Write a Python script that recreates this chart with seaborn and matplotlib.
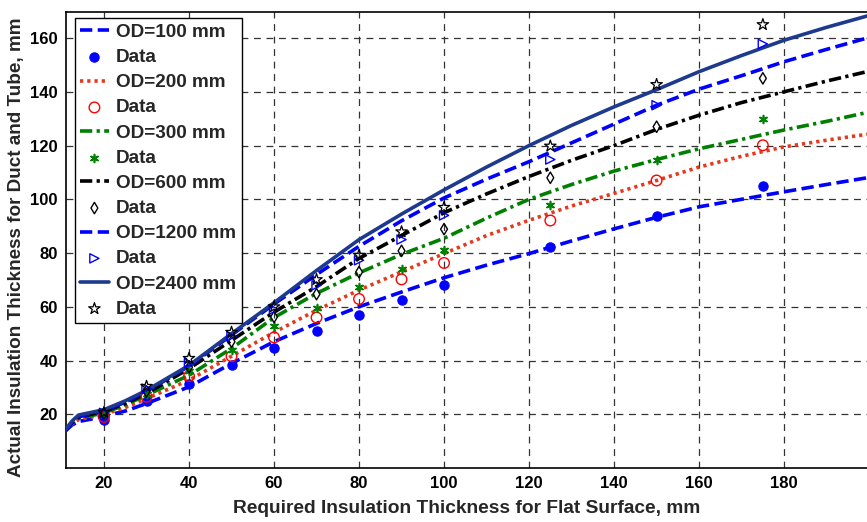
import numpy as np
import pandas as pd
import matplotlib
matplotlib.use("Agg")
import matplotlib.pyplot as plt
import seaborn as sns

# ---- data ----
x_fit = [11, 12.5, 14, 17, 20, 25, 30, 40, 50, 60, 70, 80, 90, 100, 110, 120,
         130, 140, 150, 160, 170, 180, 190, 199.5]
fit_100 = [14.0, 16.0, 17.3, 18.2, 19.3, 21.2, 24.0, 30.2, 38.9, 47.0, 53.8, 60.0,
           65.5, 70.8, 75.5, 79.8, 84.5, 89.0, 93.3, 97.2, 100.0, 102.8, 105.5, 108.0]
fit_200 = [14.0, 16.3, 18.0, 19.0, 20.0, 22.5, 25.8, 32.7, 41.6, 50.5, 58.7, 66.2,
           73.0, 79.8, 86.5, 92.2, 97.5, 102.2, 107.0, 112.0, 116.0, 119.5, 122.0, 124.2]
fit_300 = [14.0, 16.5, 18.5, 19.5, 20.5, 23.5, 27.1, 34.5, 44.5, 56.0, 65.0, 72.6,
           79.5, 85.5, 93.0, 100.0, 105.5, 110.5, 114.8, 118.8, 122.3, 125.8, 129.0, 132.3]
fit_600 = [14.0, 16.8, 18.8, 20.0, 21.0, 24.0, 27.7, 37.0, 47.5, 58.0, 67.5, 78.0,
           86.5, 95.0, 102.0, 108.5, 114.5, 120.0, 126.0, 131.3, 136.0, 140.0, 144.0, 147.5]
fit_1200 = [14.0, 17.0, 19.0, 20.2, 21.3, 24.5, 28.5, 37.9, 49.5, 61.0, 72.0, 82.5,
            92.0, 100.5, 107.5, 114.0, 121.0, 128.0, 135.0, 141.0, 146.0, 151.2, 155.8, 160.0]
fit_2400 = [14.5, 17.5, 19.7, 20.7, 21.7, 25.0, 28.9, 38.2, 50.0, 61.5, 73.5, 85.0,
            94.5, 103.5, 112.0, 120.0, 127.5, 134.4, 140.8, 147.5, 153.5, 159.2, 164.0, 168.2]

x_data = [20, 30, 40, 50, 60, 70, 80, 90, 100, 125, 150, 175]
data_100 = [18.0, 25.0, 31.4, 38.4, 44.8, 50.9, 56.9, 62.4, 68.0, 82.1, 93.8, 105.0]
data_200 = [19.0, 26.5, 34.2, 41.6, 48.6, 56.0, 62.9, 70.2, 76.3, 92.1, 107.0, 120.1]
data_300 = [19.8, 27.5, 36.0, 44.0, 52.8, 59.6, 67.2, 73.9, 81.0, 98.0, 114.7, 129.8]
data_600 = [20.3, 28.5, 37.5, 47.0, 56.2, 64.7, 72.9, 80.8, 88.9, 108.0, 127.0, 145.0]
data_1200 = [20.5, 29.5, 39.0, 49.0, 59.0, 68.0, 77.3, 85.0, 94.0, 114.8, 135.0, 157.8]
data_2400 = [20.7, 30.4, 40.8, 50.5, 60.0, 70.1, 79.2, 87.9, 97.0, 119.8, 142.7, 165.0]

line_labels = ["OD=100 mm", "OD=200 mm", "OD=300 mm", "OD=600 mm", "OD=1200 mm", "OD=2400 mm"]
x_ticks = [20, 40, 60, 80, 100, 120, 140, 160, 180]
y_ticks = [20, 40, 60, 80, 100, 120, 140, 160]

# ---- style ----
sns.set_style("white")
plt.rcParams["font.family"] = ["Liberation Sans", "DejaVu Sans"]
plt.rcParams["font.weight"] = "bold"

fig = plt.figure(figsize=(8.67, 5.22), dpi=100)
ax = fig.add_axes([66 / 867, 1 - 468 / 522, (867 - 66) / 867, (468 - 12) / 522])

fits = [fit_100, fit_200, fit_300, fit_600, fit_1200, fit_2400]
datas = [data_100, data_200, data_300, data_600, data_1200, data_2400]
line_styles = [
    dict(color="#0000FF", ls=(0, (3.4, 1.5))),
    dict(color="#E5391E", ls=(0, (0.9, 1.1))),
    dict(color="#008000", ls=(0, (3.4, 1.2, 0.9, 1.2))),
    dict(color="#000000", ls=(0, (3.4, 1.2, 0.9, 1.2))),
    dict(color="#0000FF", ls=(0, (3.4, 1.5))),
    dict(color="#1E3A8E", ls="-"),
]
marker_styles = [
    dict(marker="o", s=45, facecolor="#0000FF", edgecolor="#0000FF", linewidth=0.8),
    dict(marker="o", s=58, facecolor="none", edgecolor="#FF0000", linewidth=1.0),
    dict(marker=(6, 2, 0), s=32, facecolor="#008000", edgecolor="#008000", linewidth=1.2),
    dict(marker="d", s=34, facecolor="none", edgecolor="#000000", linewidth=1.0),
    dict(marker=">", s=44, facecolor="none", edgecolor="#0000FF", linewidth=1.0),
    dict(marker="*", s=75, facecolor="none", edgecolor="#000000", linewidth=0.9),
]

handles = []
labels = []
for fit, dat, lab, lsty, msty in zip(fits, datas, line_labels, line_styles, marker_styles):
    sns.lineplot(x=x_fit, y=fit, ax=ax, color=lsty["color"], linewidth=2.6,
                 linestyle=lsty["ls"], label=lab, zorder=3)
    ln = ax.lines[-1]
    sns.scatterplot(x=x_data, y=dat, ax=ax, marker=msty["marker"], s=msty["s"],
                    facecolor=msty["facecolor"], edgecolor=msty["edgecolor"],
                    linewidth=msty["linewidth"], label="Data", zorder=4)
    sc = ax.collections[-1]
    handles += [ln, sc]
    labels += [lab, "Data"]

ax.set_xlim(11.06, 199.5)
ax.set_ylim(0, 169.7)
ax.set_xticks(x_ticks)
ax.set_yticks(y_ticks)
ax.tick_params(axis="both", labelsize=12, direction="in", length=4, width=1,
               colors="black", pad=6)
for t in ax.get_xticklabels() + ax.get_yticklabels():
    t.set_fontweight("bold")

ax.grid(True, color="#333333", linestyle=(0, (5.5, 4.5)), linewidth=0.9)
ax.set_axisbelow(True)
for side in ["left", "bottom", "top"]:
    ax.spines[side].set_color("black")
    ax.spines[side].set_linewidth(1.2)
ax.spines["right"].set_visible(False)

ax.set_xlabel("Required Insulation Thickness for Flat Surface, mm",
              fontsize=13.8, fontweight="bold", labelpad=6)
ax.set_ylabel("Actual Insulation Thickness for Duct and Tube, mm",
              fontsize=13.6, fontweight="bold")
ax.yaxis.set_label_coords(-0.051, 0.485)

leg = ax.legend(handles, labels, loc="upper left", bbox_to_anchor=(0.006, 0.995),
                prop=dict(size=13.6, weight="bold"), frameon=True, fancybox=False,
                framealpha=1, edgecolor="black", handlelength=1.5, handletextpad=0.4,
                labelspacing=0.42, borderpad=0.3, borderaxespad=0.2)
leg.get_frame().set_linewidth(1.0)

fig.savefig("out.png", dpi=100)
